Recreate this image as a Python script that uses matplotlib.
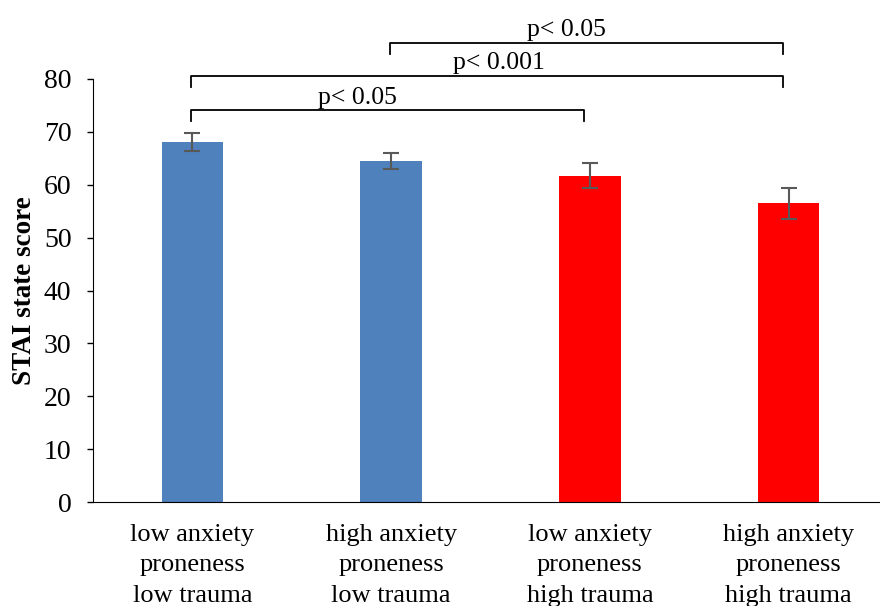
import matplotlib
matplotlib.use("Agg")
import matplotlib.pyplot as plt

categories = ["low anxiety\nproneness\nlow trauma", "high anxiety\nproneness\nlow trauma",
              "low anxiety\nproneness\nhigh trauma", "high anxiety\nproneness\nhigh trauma"]
values = [68.1, 64.5, 61.7, 56.5]
errors = [1.7, 1.55, 2.4, 2.9]
colors = ["#4F81BD", "#4F81BD", "#FF0000", "#FF0000"]
# significance brackets: (start index, end index, label, height)
brackets = [(0, 2, "p< 0.05", 74.1), (0, 3, "p< 0.001", 80.6), (1, 3, "p< 0.05", 86.8)]
label_offsets = [-0.15, 0.06, -0.1]

plt.rcParams['font.family'] = ['Liberation Serif', 'DejaVu Serif']

fig = plt.figure(figsize=(8.8, 6.06), dpi=100)
ax = fig.add_axes([93/880, (606-502)/606, 795/880, 423/606])

x = list(range(len(categories)))
ax.bar(x, values, width=0.31, color=colors, zorder=2)
ax.errorbar(x, values, yerr=errors, fmt='none', ecolor='#595959', elinewidth=1.5,
            capsize=6, capthick=1.5, zorder=3)

ax.set_xlim(-0.5, 3.5)
ax.set_ylim(0, 80)
ax.set_yticks(range(0, 81, 10))
ax.tick_params(axis='y', labelsize=20, length=4.5, width=1, direction='out', pad=11)
ax.set_xticks(x)
ax.set_xticklabels(categories, fontsize=19, linespacing=1.48)
ax.tick_params(axis='x', length=0, pad=16)
for s in ['top', 'right']:
    ax.spines[s].set_visible(False)
ax.spines['left'].set_color('black')
ax.spines['bottom'].set_color('black')
ax.set_ylabel("STAI state score", fontsize=19.5, fontweight='bold', labelpad=5)

drop = 2.1
for (i0, i1, lab, h), off in zip(brackets, label_offsets):
    xa = i0 - 0.005
    xb = i1 - 0.03
    ax.plot([xa, xa, xb, xb], [h - drop, h, h, h - drop], color='black', lw=1.3,
            clip_on=False, zorder=4)
    ax.text((xa + xb) / 2 + off, h + 0.3, lab,
            ha='center', va='bottom', fontsize=18.5, clip_on=False)

fig.savefig("out.png", dpi=100)
